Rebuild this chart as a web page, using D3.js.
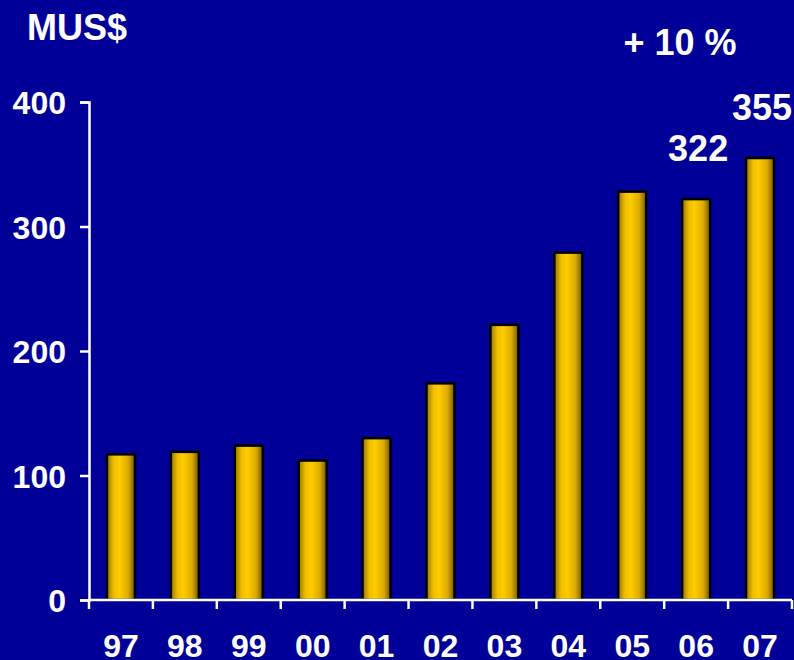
<!DOCTYPE html>
<html>
<head>
<meta charset="utf-8">
<script src="https://cdn.jsdelivr.net/npm/d3@7"></script>
<style>
  body { margin: 0; background: #000099; }
  svg { display: block; }
  text { font-family: "Liberation Sans", Arial, sans-serif; font-weight: bold; fill: #fff; }
</style>
</head>
<body>
<svg id="chart"></svg>
<script>
// data
const years = ["97", "98", "99", "00", "01", "02", "03", "04", "05", "06", "07"];
const revenue = [117, 119, 124, 112, 130, 174, 221, 279, 328, 322, 355];
const yTicks = [0, 100, 200, 300, 400];
const labelled = ["06", "07"];

const W = 794, H = 660;
const svg = d3.select("#chart").attr("width", W).attr("height", H);

svg.append("rect").attr("width", W).attr("height", H).attr("fill", "#000099");

// gradient for the bars (dark edges, bright centre-left)
const grad = svg.append("defs").append("linearGradient")
  .attr("id", "gold").attr("x1", "0%").attr("x2", "100%").attr("y1", "0%").attr("y2", "0%");
grad.append("stop").attr("offset", "0%").attr("stop-color", "#9a7400");
grad.append("stop").attr("offset", "25%").attr("stop-color", "#f0c000");
grad.append("stop").attr("offset", "45%").attr("stop-color", "#ffcc00");
grad.append("stop").attr("offset", "75%").attr("stop-color", "#dcac00");
grad.append("stop").attr("offset", "100%").attr("stop-color", "#735600");

// scales
const x = d3.scaleBand().domain(years).range([89, 792]).padding(0);
const y = d3.scaleLinear().domain([0, 400]).range([600, 102]);
const barW = 28;

// bars
svg.selectAll("rect.bar")
  .data(years)
  .enter().append("rect")
  .attr("class", "bar")
  .attr("x", d => x(d) + x.bandwidth() / 2 - barW / 2)
  .attr("y", (d, i) => y(revenue[i]))
  .attr("width", barW)
  .attr("height", (d, i) => y(0) - y(revenue[i]))
  .attr("fill", "url(#gold)")
  .attr("stroke", "#000")
  .attr("stroke-width", 2.5);

// y axis
const yAxis = svg.append("g")
  .attr("transform", "translate(89,0)")
  .call(d3.axisLeft(y).tickValues(yTicks).tickSize(9).tickPadding(14));
yAxis.select(".domain").attr("stroke", "#fff").attr("stroke-width", 2.5);
yAxis.selectAll(".tick line").attr("stroke", "#fff").attr("stroke-width", 2.5);
yAxis.selectAll("text").attr("font-size", 32).attr("fill", "#fff").attr("dy", "0.36em");

// x axis: ticks sit on band boundaries
const xAxis = svg.append("g").attr("transform", "translate(0,600)");
xAxis.append("line")
  .attr("x1", 89).attr("x2", 792)
  .attr("stroke", "#fff").attr("stroke-width", 2.5);
xAxis.selectAll("line.tk")
  .data(years.concat(["end"]))
  .enter().append("line")
  .attr("class", "tk")
  .attr("x1", (d, i) => i < years.length ? x(d) : x.range()[1])
  .attr("x2", (d, i) => i < years.length ? x(d) : x.range()[1])
  .attr("y1", 0).attr("y2", 9)
  .attr("stroke", "#fff").attr("stroke-width", 2.5);
xAxis.selectAll("text")
  .data(years)
  .enter().append("text")
  .attr("x", d => x(d) + x.bandwidth() / 2)
  .attr("y", 57)
  .attr("text-anchor", "middle")
  .attr("font-size", 32)
  .text(d => d);

// value labels above the last two bars
svg.selectAll("text.val")
  .data(labelled)
  .enter().append("text")
  .attr("class", "val")
  .attr("x", d => x(d) + x.bandwidth() / 2 + 2)
  .attr("y", d => y(revenue[years.indexOf(d)]) - 38)
  .attr("text-anchor", "middle")
  .attr("font-size", 36)
  .text(d => revenue[years.indexOf(d)]);

// titles
svg.append("text").attr("x", 27).attr("y", 40).attr("font-size", 36).text("MUS$");
svg.append("text").attr("x", 680).attr("y", 55).attr("text-anchor", "middle").attr("font-size", 36).text("+ 10 %");
</script>
</body>
</html>
